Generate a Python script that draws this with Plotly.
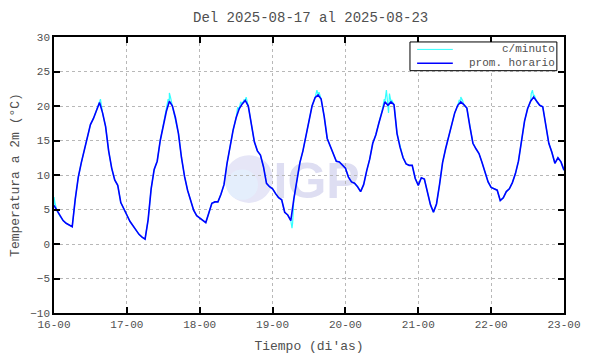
import plotly.graph_objects as go
from datetime import datetime, timedelta

# Hourly averages (prom. horario), one value per hour from 2025-08-16 00:00 to 2025-08-23 00:00
hourly_temp = [
    5.6, 4.8, 4.0, 3.4, 3.0, 2.7, 2.5, 6.5, 9.7, 11.8, 13.5, 15.5, 17.3, 18.2, 19.5, 20.5, 19.0, 17.0, 13.5, 11.0, 9.3, 8.5, 6.0, 5.0,
    4.2, 3.3, 2.6, 1.9, 1.4, 1.0, 0.7, 3.5, 8.0, 10.8, 12.0, 15.0, 17.3, 19.2, 20.7, 20.0, 18.3, 16.0, 12.5, 9.8, 7.8, 6.2, 4.9, 4.1,
    3.8, 3.5, 3.1, 4.5, 5.9, 6.1, 6.1, 7.2, 8.6, 11.7, 14.3, 16.5, 18.3, 19.6, 20.3, 20.8, 20.0, 17.5, 14.8, 13.5, 12.9, 11.2, 8.8, 8.3,
    8.0, 7.3, 6.7, 6.4, 4.6, 4.2, 3.4, 6.5, 9.3, 11.8, 13.5, 15.5, 17.6, 20.0, 21.2, 21.6, 21.0, 18.5, 15.3, 14.2, 13.2, 12.0, 11.9, 11.5,
    11.0, 9.7, 9.0, 8.8, 8.3, 7.6, 8.6, 10.6, 12.3, 14.6, 15.8, 17.5, 19.2, 20.6, 20.1, 20.6, 20.2, 16.0, 14.0, 12.5, 11.6, 11.4, 11.4, 9.5,
    8.5, 9.6, 9.4, 7.4, 5.7, 4.6, 5.8, 8.6, 11.8, 13.8, 15.5, 17.4, 19.0, 20.1, 20.6, 20.2, 19.7, 17.0, 14.6, 13.8, 13.1, 11.8, 10.2, 9.0,
    8.2, 8.0, 7.8, 6.3, 6.7, 7.6, 8.0, 8.9, 10.2, 12.0, 15.2, 17.8, 19.6, 20.7, 21.3, 20.6, 20.1, 19.9, 17.0, 14.6, 13.3, 11.7, 12.5, 11.9,
    10.7,
]

# Extra per-minute readings (c/minuto) visible as spikes around the hourly curve
minute_extra_hours = [0.0, 0.3, 14.8, 15.3, 37.6, 38.0, 38.4, 60.5, 61.5, 62.6, 63.3, 78.4, 78.6, 86.3, 86.6, 87.3,
                      108.8, 109.5, 110.2, 110.5, 111.3, 133.5, 134.0, 134.6, 157.2, 157.6, 158.2]
minute_extra_temp = [6.8, 6.0, 20.5, 21.0, 21.0, 21.9, 21.2, 19.8, 20.6, 20.9, 21.3, 2.3, 3.0, 21.9, 22.3, 22.0,
                     21.0, 22.3, 19.0, 21.8, 20.8, 20.9, 21.3, 20.8, 21.8, 22.3, 21.6]

series_names = ["c/minuto", "prom. horario"]
series_colors = ["#33ffff", "#0000ff"]
title_text = "Del 2025-08-17 al 2025-08-23"
y_label = "Temperatura a 2m (°C)"
x_label = "Tiempo (di'as)"
y_ticks = [-10, -5, 0, 5, 10, 15, 20, 25, 30]

start = datetime(2025, 8, 16)
hourly_x = [start + timedelta(hours=h) for h in range(len(hourly_temp))]

pairs = [(float(h), v) for h, v in enumerate(hourly_temp)] + list(zip(minute_extra_hours, minute_extra_temp))
pairs.sort(key=lambda p: p[0])
minute_x = [start + timedelta(hours=h) for h, _ in pairs]
minute_y = [v for _, v in pairs]

font_family = "Liberation Mono, Courier New, monospace"
text_color = "#505050"

fig = go.Figure()
fig.add_trace(go.Scatter(x=minute_x, y=minute_y, mode="lines", name=series_names[0],
                         line=dict(color=series_colors[0], width=1.2), showlegend=False))
fig.add_trace(go.Scatter(x=hourly_x, y=hourly_temp, mode="lines", name=series_names[1],
                         line=dict(color=series_colors[1], width=1.6), showlegend=False))

# Faint watermark (logo disc + letters)
fig.add_shape(type="circle", xref="paper", yref="paper", x0=0.335, x1=0.429, y0=0.399, y1=0.572,
              fillcolor="#e6e6f7", line=dict(width=0), layer="below")
fig.add_shape(type="circle", xref="paper", yref="paper", x0=0.338, x1=0.40, y0=0.41, y1=0.52,
              fillcolor="#e4eefc", line=dict(width=0), layer="below")
fig.add_shape(type="rect", xref="paper", yref="paper", x0=0.44, x1=0.59, y0=0.37, y1=0.62,
              fillcolor="rgba(0,0,0,0)", line=dict(width=0), layer="below",
              label=dict(text="<b>IGP</b>", font=dict(size=50, color="#dedef2", family="Arial")))

# Legend box drawn in the top-right corner of the plot
fig.add_shape(type="rect", xref="paper", yref="paper", x0=0.698, x1=0.986, y0=0.878, y1=0.982,
              fillcolor="white", line=dict(color="black", width=1), layer="above")
legend_y = [0.955, 0.905]
for name, color, ly in zip(series_names, series_colors, legend_y):
    fig.add_shape(type="line", xref="paper", yref="paper", x0=0.712, x1=0.782, y0=ly, y1=ly,
                  line=dict(color=color, width=1.5 if color == "#0000ff" else 1))
    fig.add_annotation(text=name, xref="paper", yref="paper", x=0.984, y=ly, xanchor="right",
                       yanchor="middle", showarrow=False, borderpad=0,
                       font=dict(family=font_family, size=11, color=text_color))

axis_common = dict(showline=True, linecolor="black", linewidth=1.5, mirror="ticks",
                   ticks="inside", ticklen=6, tickwidth=1.5, tickcolor="black",
                   showgrid=True, gridcolor="#b8b8b8", griddash="dot", gridwidth=1,
                   zeroline=False, automargin=False,
                   tickfont=dict(family=font_family, size=11, color=text_color))

fig.update_xaxes(range=[start, start + timedelta(days=7)], dtick=86400000, tickformat="%d-%H",
                 title=dict(text=x_label, font=dict(family=font_family, size=13, color=text_color), standoff=13),
                 **axis_common)
fig.update_yaxes(range=[-10, 30], tickvals=y_ticks,
                 title=dict(text=y_label, font=dict(family=font_family, size=13, color=text_color), standoff=8),
                 **axis_common)

fig.update_layout(
    width=582, height=346,
    margin=dict(l=46, r=26, t=29, b=41, autoexpand=False),
    paper_bgcolor="white", plot_bgcolor="white",
    title=dict(text=title_text, x=0.52, xanchor="center", y=0.974, yanchor="middle",
               font=dict(family=font_family, size=14, color=text_color)),
    showlegend=False,
)

fig.write_html("out.html")
